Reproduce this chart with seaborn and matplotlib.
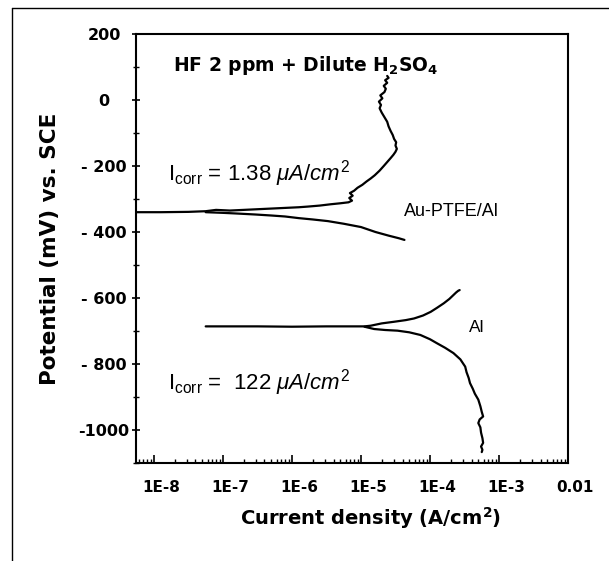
import numpy as np
import pandas as pd
import matplotlib
matplotlib.use("Agg")
import matplotlib.pyplot as plt
import seaborn as sns
from matplotlib.lines import Line2D
from matplotlib.ticker import MultipleLocator, LogLocator, NullFormatter
from matplotlib.transforms import ScaledTranslation

# Polarization curves: log10(current density, A/cm2) and potential (mV vs. SCE)
au_anodic_logi = [-8.28, -7.9, -7.5, -7.25, -7.1, -6.9, -6.7, -6.5, -6.3, -6.1, -5.9, -5.77, -5.6,
                  -5.44, -5.3, -5.18, -5.13, -5.17, -5.12, -5.16, -5.10, -5.05, -4.98, -4.92, -4.86,
                  -4.80, -4.73, -4.67, -4.62, -4.57, -4.53, -4.50, -4.48, -4.50, -4.49, -4.52, -4.54,
                  -4.57, -4.60, -4.62, -4.66, -4.70, -4.73, -4.71, -4.74, -4.69, -4.72, -4.66, -4.64,
                  -4.67, -4.62, -4.65, -4.60, -4.62]
au_anodic_mv = [-340, -340, -339, -337, -333, -335, -333, -331, -329, -327, -325, -323, -320,
                -316, -313, -310, -305, -297, -290, -282, -275, -266, -257, -247, -238,
                -228, -214, -200, -188, -176, -166, -157, -148, -138, -128, -118, -106,
                -94, -80, -66, -52, -38, -25, -15, -5, 5, 14, 24, 34,
                43, 52, 60, 67, 73]

au_cathodic_logi = [-7.25, -7.0, -6.8, -6.53, -6.3, -6.10, -5.9, -5.7, -5.48, -5.25, -5.0,
                    -4.79, -4.6, -4.45, -4.37]
au_cathodic_mv = [-340, -342, -344, -347, -350, -353, -358, -362, -367, -375, -385,
                  -400, -411, -419, -424]

al_anodic_logi = [-7.25, -6.5, -6.0, -5.5, -4.95, -4.86, -4.7, -4.52, -4.35, -4.23, -4.1, -3.99,
                  -3.90, -3.80, -3.72, -3.66, -3.62, -3.59, -3.57]
al_anodic_mv = [-686, -686, -687, -686, -686, -684, -677, -672, -667, -662, -653, -642,
                -630, -616, -603, -591, -583, -578, -576]

al_cathodic_logi = [-4.95, -4.81, -4.65, -4.47, -4.3, -4.14, -4.0, -3.90, -3.78, -3.66, -3.56,
                    -3.49, -3.47, -3.44, -3.42, -3.38, -3.35, -3.30, -3.27, -3.25, -3.23, -3.28,
                    -3.30, -3.27, -3.26, -3.24, -3.23, -3.26, -3.24, -3.25]
al_cathodic_mv = [-687, -694, -697, -699, -704, -712, -725, -737, -751, -767, -786,
                  -808, -825, -842, -858, -875, -890, -908, -928, -945, -959, -968,
                  -979, -992, -1008, -1025, -1039, -1050, -1060, -1067]

x_tick_values = [1e-8, 1e-7, 1e-6, 1e-5, 1e-4, 1e-3, 1e-2]
x_tick_labels = ["1E-8", "1E-7", "1E-6", "1E-5", "1E-4", "1E-3", "0.01"]
y_tick_values = [200, 0, -200, -400, -600, -800, -1000]
y_tick_labels = ["200", "0", "- 200", "- 400", "- 600", "- 800", "-1000"]

branches = [
    ("Au anodic", au_anodic_logi, au_anodic_mv),
    ("Au cathodic", au_cathodic_logi, au_cathodic_mv),
    ("Al anodic", al_anodic_logi, al_anodic_mv),
    ("Al cathodic", al_cathodic_logi, al_cathodic_mv),
]
df = pd.concat([pd.DataFrame({"branch": name, "i": 10.0 ** np.array(lx), "E": ey})
                for name, lx, ey in branches], ignore_index=True)

sns.set_style("ticks")
plt.rcParams["font.family"] = ["Liberation Sans", "DejaVu Sans"]
plt.rcParams["mathtext.fontset"] = "custom"
plt.rcParams["mathtext.rm"] = "Liberation Sans"
plt.rcParams["mathtext.it"] = "Liberation Sans:italic"
plt.rcParams["mathtext.bf"] = "DejaVu Sans:bold"
for key in ["text.color", "axes.labelcolor", "xtick.color", "ytick.color", "axes.edgecolor"]:
    plt.rcParams[key] = "black"
wide_bold = dict(family="DejaVu Sans", fontweight="bold")

fig = plt.figure(figsize=(6.09, 5.61), dpi=100)
ax = fig.add_axes([0.2233, 0.1747, 0.7094, 0.7647])

for name, _, _ in branches:
    sns.lineplot(data=df[df["branch"] == name], x="i", y="E", sort=False, estimator=None,
                 color="black", linewidth=1.6, ax=ax)

ax.set_xscale("log")
ax.set_xlim(10 ** -8.26, 1e-2)
ax.set_ylim(-1100, 200)

ax.set_xticks(x_tick_values)
ax.set_xticklabels(x_tick_labels, fontsize=11, **wide_bold)
ax.xaxis.set_minor_locator(LogLocator(base=10, subs=np.arange(2, 10), numticks=20))
ax.xaxis.set_minor_formatter(NullFormatter())
ax.set_yticks(y_tick_values)
ax.set_yticklabels(y_tick_labels, fontsize=11.5, **wide_bold)
ax.yaxis.set_minor_locator(MultipleLocator(100))

ax.tick_params(axis="x", which="major", direction="in", length=6, width=1.2, pad=12)
ax.tick_params(axis="x", which="minor", direction="in", length=3, width=1)
ax.tick_params(axis="y", which="major", direction="inout", length=6, width=1.2, pad=20)
ax.tick_params(axis="y", which="minor", direction="inout", length=5, width=1)
# the scanned labels sit a little right of their ticks, and the y labels are centred
shift = ScaledTranslation(7 / 100, 0, fig.dpi_scale_trans)
for lab in ax.get_xticklabels():
    lab.set_transform(lab.get_transform() + shift)
for lab in ax.get_yticklabels():
    lab.set_horizontalalignment("center")
for s in ax.spines.values():
    s.set_linewidth(1.5)
    s.set_color("black")

ax.set_xlabel(r"Current density (A/cm$^\mathbf{2}$)", fontsize=14, labelpad=8, **wide_bold)
ax.xaxis.label.set_x(0.542)
ax.set_ylabel("Potential (mV) vs. SCE", fontsize=15.5, labelpad=13, **wide_bold)

ax.text(10 ** -7.72, 106, r"HF 2 ppm + Dilute H$_\mathbf{2}$SO$_\mathbf{4}$",
        fontsize=13.5, va="center", ha="left", **wide_bold)
ax.text(10 ** -7.80, -224, r"I$_\mathrm{corr}$ = 1.38 $\mathit{\mu A/cm^2}$",
        fontsize=16, va="center", ha="left")
ax.text(10 ** -7.80, -857, r"I$_\mathrm{corr}$ =  122 $\mathit{\mu A/cm^2}$",
        fontsize=16, va="center", ha="left")
ax.text(10 ** -4.38, -337, "Au-PTFE/Al", fontsize=13, va="center", ha="left")
ax.text(10 ** -3.44, -688, "Al", fontsize=12.5, va="center", ha="left")

# Outer frame: only top and left edges are visible in the scan
fig.add_artist(Line2D([0.019, 0.019], [0.0, 0.986], color="black", linewidth=1))
fig.add_artist(Line2D([0.019, 1.0], [0.986, 0.986], color="black", linewidth=1))

fig.savefig("out.png", dpi=100)
